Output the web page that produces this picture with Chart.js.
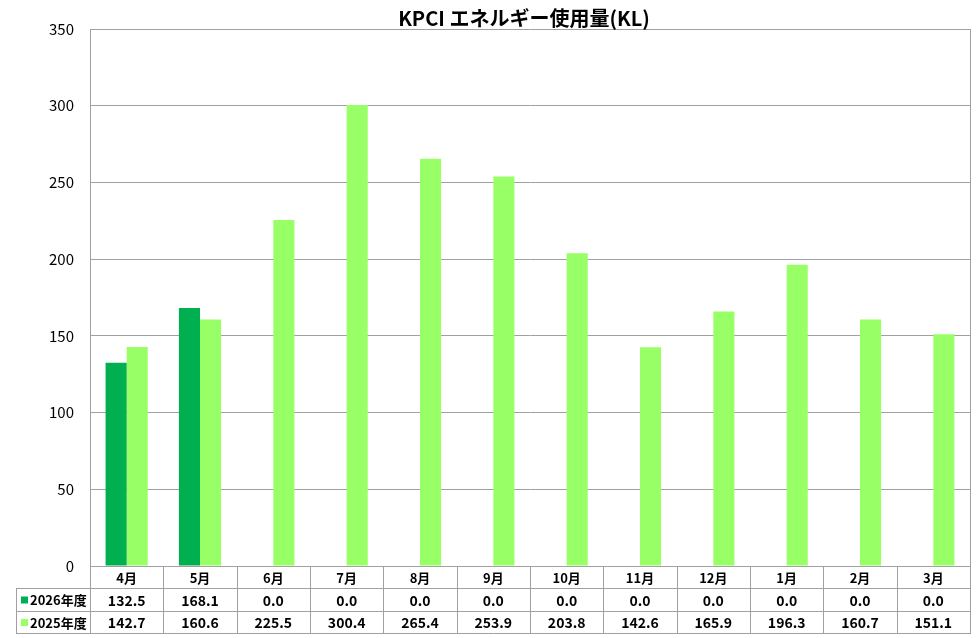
<!DOCTYPE html>
<html>
<head>
<meta charset="utf-8">
<script src="https://cdn.jsdelivr.net/npm/chart.js@4"></script>
<style>
html,body{margin:0;padding:0;background:#fff;}
canvas{display:block;}
</style>
</head>
<body>
<canvas id="c" width="976" height="638"></canvas>
<script>
const titleText = 'KPCI エネルギー使用量(KL)';
const months = ['4月','5月','6月','7月','8月','9月','10月','11月','12月','1月','2月','3月'];
const seriesNames = ['2026年度','2025年度'];
const fy2026 = [132.5,168.1,0.0,0.0,0.0,0.0,0.0,0.0,0.0,0.0,0.0,0.0];
const fy2025 = [142.7,160.6,225.5,300.4,265.4,253.9,203.8,142.6,165.9,196.3,160.7,151.1];
const seriesColors = ['#00B050','#99FF66'];
const yMax = 350, yStep = 50;

const FONT = "'Noto Sans CJK JP', 'Noto Sans', sans-serif";
const LINE = '#A0A0A0';

const tablePlugin = {
  id: 'tablePlugin',
  afterDraw(chart) {
    const ctx = chart.ctx;
    const xs = chart.scales.x;
    const area = chart.chartArea;
    const n = months.length;
    const c0 = xs.getPixelForValue(0), c1 = xs.getPixelForValue(1);
    const colW = c1 - c0;
    const left = c0 - colW/2;
    const right = left + colW*n;
    const r0 = area.bottom, r1 = r0 + 22, r2 = r1 + 23, r3 = r2 + 22;
    const legL = 16;
    ctx.save();
    ctx.strokeStyle = LINE;
    ctx.lineWidth = 1;
    ctx.beginPath();
    ctx.moveTo(Math.round(area.right)+0.5, area.top);
    ctx.lineTo(Math.round(area.right)+0.5, r3);
    ctx.stroke();
    ctx.beginPath();
    ctx.moveTo(left, r0+0.5); ctx.lineTo(right+1, r0+0.5);
    [r1,r2,r3].forEach(y=>{ctx.moveTo(legL, y+0.5); ctx.lineTo(right+1, y+0.5);});
    for (let i=0;i<=n;i++){
      const x = Math.round(left + i*colW)+0.5;
      ctx.moveTo(x, r0); ctx.lineTo(x, r3);
    }
    ctx.moveTo(legL+0.5, r1); ctx.lineTo(legL+0.5, r3);
    ctx.stroke();
    ctx.fillStyle = '#000';
    ctx.textAlign = 'center';
    ctx.textBaseline = 'middle';
    ctx.font = 'bold 13px ' + FONT;
    for (let i=0;i<n;i++){
      const cx = xs.getPixelForValue(i);
      ctx.fillText(months[i], cx, (r0+r1)/2+1);
    }
    ctx.font = 'bold 14px ' + FONT;
    const rows = [fy2026, fy2025];
    const rowY = [(r1+r2)/2+1, (r2+r3)/2+1];
    rows.forEach((arr, k)=>{
      for (let i=0;i<n;i++){
        ctx.fillText(arr[i].toFixed(1), xs.getPixelForValue(i), rowY[k]);
      }
      ctx.fillStyle = seriesColors[k];
      ctx.fillRect(legL+5, rowY[k]-4, 7, 7);
      ctx.fillStyle = '#000';
      ctx.textAlign = 'left';
      ctx.font = 'bold 13px ' + FONT;
      ctx.fillText(seriesNames[k], legL+14, rowY[k]);
      ctx.font = 'bold 14px ' + FONT;
      ctx.textAlign = 'center';
    });
    ctx.font = 'bold 20px ' + FONT;
    ctx.fillText(titleText, (area.left+area.right)/2 - 6, 18);
    ctx.restore();
  }
};

new Chart(document.getElementById('c'), {
  type: 'bar',
  data: {
    labels: months,
    datasets: [
      {label: seriesNames[0], data: fy2026, backgroundColor: seriesColors[0], borderWidth: 0},
      {label: seriesNames[1], data: fy2025, backgroundColor: seriesColors[1], borderWidth: 0}
    ]
  },
  options: {
    responsive: false,
    devicePixelRatio: 1,
    animation: false,
    layout: {padding: {top: 29, right: 6, left: 0, bottom: 72}},
    datasets: {bar: {categoryPercentage: 0.575, barPercentage: 1.0}},
    plugins: {legend: {display: false}, tooltip: {enabled: false}, title: {display: false}},
    scales: {
      x: {display: false},
      y: {
        min: 0, max: yMax,
        ticks: {stepSize: yStep, padding: 16, color: '#000', font: {family: FONT, size: 15}},
        grid: {color: LINE, drawTicks: false},
        border: {color: LINE},
        afterFit(s){ s.width = 90; }
      }
    }
  },
  plugins: [tablePlugin]
});
</script>
</body>
</html>
